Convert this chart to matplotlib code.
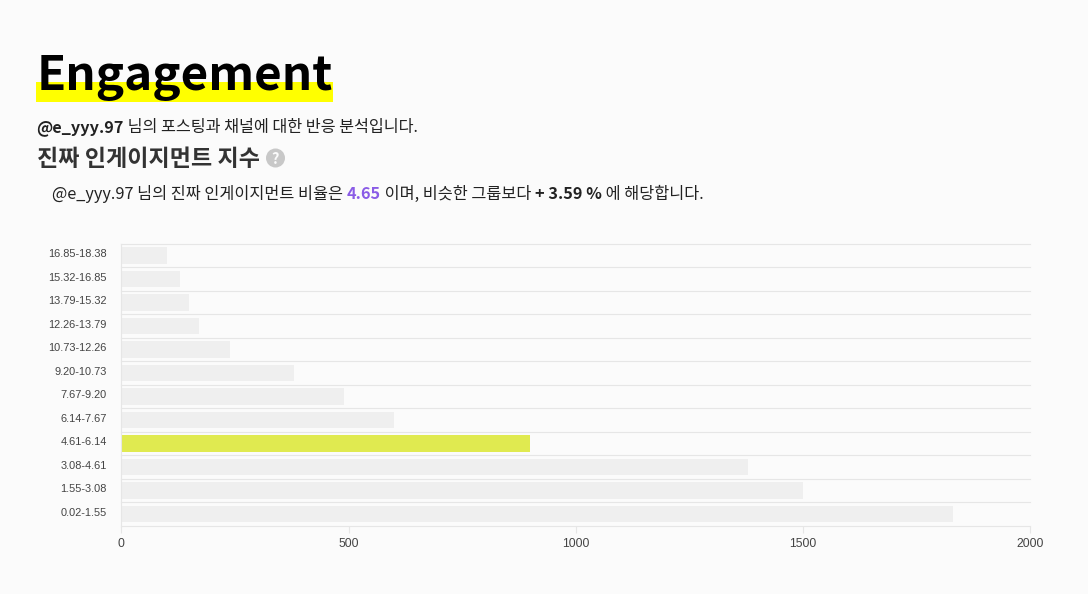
import matplotlib
matplotlib.use('Agg')
import matplotlib.pyplot as plt
from matplotlib.patches import Rectangle, Circle
from matplotlib.transforms import ScaledTranslation

plt.rcParams['font.family'] = ['Noto Sans CJK KR', 'DejaVu Sans']

W = 1088
H = 594
bg = '#fbfbfb'

# bins run from the bottom of the chart to the top
bins = ['0.02-1.55', '1.55-3.08', '3.08-4.61', '4.61-6.14', '6.14-7.67', '7.67-9.20',
        '9.20-10.73', '10.73-12.26', '12.26-13.79', '13.79-15.32', '15.32-16.85', '16.85-18.38']
counts = [1830, 1500, 1380, 900, 600, 490, 380, 240, 170, 148, 130, 100]
highlight = '4.61-6.14'
xticks = [0, 500, 1000, 1500, 2000]

fig = plt.figure(figsize=(W / 100, H / 100), dpi=100, facecolor=bg)

# page layer in pixel coordinates, y going down
page = fig.add_axes([0, 0, 1, 1])
page.set_xlim(0, W)
page.set_ylim(H, 0)
page.axis('off')


def write_run(x, y, parts, size):
    # text runs with different weights on one baseline
    r = fig.canvas.get_renderer()
    for s, weight, color in parts:
        t = page.text(x, y, s, fontsize=size, fontweight=weight, color=color, va='baseline', ha='left')
        # trailing spaces are not measured, so measure with a marker char
        t.set_text(s + '|')
        w1 = t.get_window_extent(r).width
        t.set_text('|')
        w2 = t.get_window_extent(r).width
        t.set_text(s)
        x += w1 - w2


page.add_patch(Rectangle((36, 82), 297, 20, color='#ffff00', lw=0))
page.text(36.5, 90, 'Engagement', fontsize=34.3, fontweight='bold', color='#000000', va='baseline')

write_run(36.5, 132, [('@e_yyy.97', 'bold', '#222222'),
                      (' 님의 포스팅과 채널에 대한 반응 분석입니다.', 'normal', '#222222')], 11.7)
page.text(37, 166, '진짜 인게이지먼트 지수', fontsize=16.6, fontweight='bold', color='#333333', va='baseline')
page.add_patch(Circle((275.5, 158), 9.5, color='#c8c8c8', lw=0))
page.text(275.5, 158.5, '?', fontsize=10.5, fontweight='bold', color='#fbfbfb', ha='center', va='center')
write_run(52, 199, [('@e_yyy.97 님의 진짜 인게이지먼트 비율은 ', 'normal', '#222222'),
                    ('4.65', 'bold', '#8a5ce6'),
                    (' 이며, 비슷한 그룹보다 ', 'normal', '#222222'),
                    ('+ 3.59 %', 'bold', '#222222'),
                    (' 에 해당합니다.', 'normal', '#222222')], 11.73)

# chart
x0, x1, y0, y1 = 121.4, 1029.8, 243.7, 525.7
ax = fig.add_axes([x0 / W, 1 - y1 / H, (x1 - x0) / W, (y1 - y0) / H], facecolor='none')
ax.set_xlim(0, 2000)
ax.set_ylim(-0.5, len(bins) - 0.5)

colors = ['#e0ea50' if b == highlight else '#efefef' for b in bins]
ax.barh(range(len(bins)), counts, height=0.7, color=colors, zorder=2)

for i in range(len(bins) + 1):
    ax.axhline(i - 0.5, color='#e6e6e6', lw=0.8, zorder=1, clip_on=False)

for s in ['top', 'right', 'bottom']:
    ax.spines[s].set_visible(False)
ax.spines['left'].set_color('#e6e6e6')
ax.spines['left'].set_linewidth(0.8)

ax.set_yticks(range(len(bins)))
ax.set_yticklabels(bins, fontsize=7.9, family='Liberation Sans', color='#444444')
ax.set_xticks(xticks)
ax.set_xticklabels(xticks, fontsize=8.8, family='Liberation Sans', color='#444444')
ax.tick_params(axis='y', length=0, pad=10.6)
ax.tick_params(axis='x', length=5, width=0.8, color='#e6e6e6', pad=4)

# y labels sit a little above the middle of their band
up = ScaledTranslation(0, 2.0 / 100, fig.dpi_scale_trans)
for label in ax.get_yticklabels():
    label.set_transform(label.get_transform() + up)

fig.savefig('out.png', dpi=100, facecolor=bg)
